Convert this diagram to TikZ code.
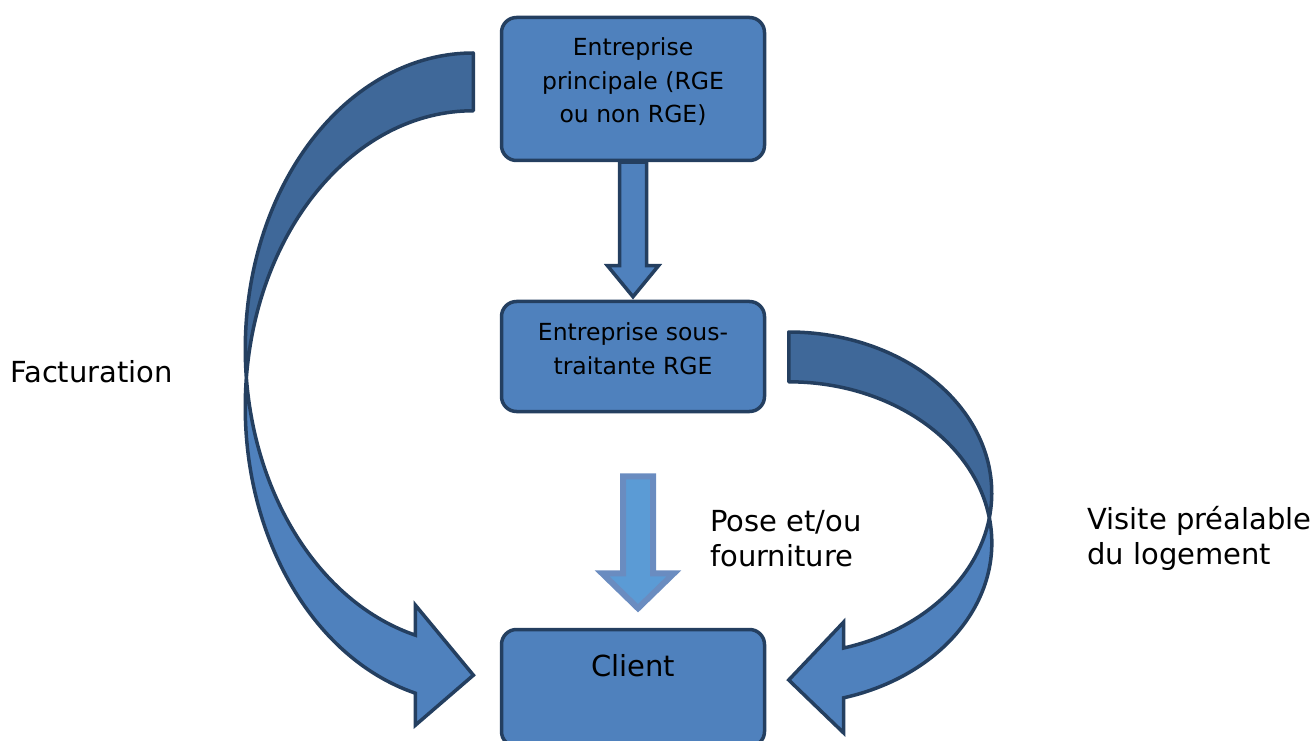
\documentclass[tikz,border=0pt]{standalone}
\usepackage{fontspec}
\setmainfont{DejaVu Sans}
\usepackage{tikz}
\usetikzlibrary{positioning,calc}

\definecolor{boxfill}{HTML}{4F81BD}
\definecolor{boxline}{HTML}{243F60}
\definecolor{backband}{HTML}{3F6899}
\definecolor{fadefill}{HTML}{5B9BD5}
\definecolor{fadeline}{HTML}{6A8CC0}

\begin{document}
\begin{tikzpicture}[
		x=1pt, y=1pt,
		box/.style={rectangle, draw=boxline, fill=boxfill, line width=3.5pt, rounded corners=15pt, minimum width=263pt, inner sep=0pt, align=center, font=\fontsize{23.5}{33.5}\selectfont},
		blockarrow/.style={draw=boxline, fill=boxfill, line width=3.5pt, line join=miter},
		backpart/.style={draw=boxline, fill=backband, line width=3.5pt, line join=round},
		frontpart/.style={draw=boxline, fill=boxfill, line width=3.5pt, line join=miter},
		fadearrow/.style={draw=fadeline, fill=fadefill, line width=6pt, line join=miter},
		tag/.style={font=\fontsize{29}{35}\selectfont, align=left, inner sep=0pt, anchor=west}
		]
		\useasboundingbox (0,0) rectangle (1316,740);
		
		%==================== Nodes ====================%
		\node[box, minimum height=143pt, text depth=17pt] (main) at (633,651) {Entreprise\\principale (RGE\\ou non RGE)};
		\node[box, minimum height=110pt, text depth=16pt] (sub) at (633,383.5) {Entreprise sous-\\traitante RGE};
		\node[box, font=\fontsize{29}{35}\selectfont, text height=47pt, text depth=70pt, anchor=base] (client) at (633,63.5) {Client};
		
		\node[tag] (bill) at (10,368) {Facturation};
		\node[tag] (work) at (710,201.5) {Pose et/ou\\fourniture};
		\node[tag] (visit) at (1087,201.5) {Visite préalable\\du logement};
		
		%==================== Arrows ====================%
		\coordinate (billstart) at ($(main.west)+(-26.5,36)$);
		\coordinate (visitstart) at ($(sub.east)+(22.5,24.5)$);
		
		% main -> sub
		\draw[blockarrow] ($(main.south)+(-13.5,0)$) -- ($(sub.north)+(-13.5,34)$) -- ++(-12,0)
		-- ($(sub.north)+(0,3)$) -- ($(sub.north)+(25.5,34)$) -- ++(-12,0) -- ($(main.south)+(13.5,0)$) -- cycle;
		
		% sub -> client (faded)
		\draw[fadearrow] ($(client.north)+(-10,151.5)$) -- ($(client.north)+(-10,54.5)$) -- ++(-21,0)
		-- ($(client.north)+(5,19.5)$) -- ($(client.north)+(41,54.5)$) -- ++(-21,0) -- ($(client.north)+(20,151.5)$) -- cycle;
		
		% main -> client, left curve
		\draw[backpart] (billstart) arc[start angle=90, end angle=185.6, x radius=228, y radius=296]
		arc[start angle=174.4, end angle=90, x radius=228, y radius=296] -- cycle;
		\draw[frontpart] ($(billstart)+(-226.9,-325)$) arc[start angle=174.4, end angle=255.3, x radius=228, y radius=296]
		-- ++(0,-32) -- ++(58,50) -- ++(-58,70) -- ++(0,-30)
		arc[start angle=255.3, end angle=185.6, x radius=228, y radius=296] -- cycle;
		
		% sub -> client, right curve
		\draw[backpart] (visitstart) arc[start angle=90, end angle=-8.9, x radius=203, y radius=161]
		arc[start angle=8.9, end angle=90, x radius=203, y radius=161] -- cycle;
		\draw[frontpart] ($(visitstart)+(200.6,-185.9)$) arc[start angle=8.9, end angle=-74.3, x radius=203, y radius=161]
		-- ++(0,-35.2) -- ++(-55,53) -- ++(55,58) -- ++(0,-26)
		arc[start angle=-74.3, end angle=-8.9, x radius=203, y radius=161] -- cycle;
		
	\end{tikzpicture}
\end{document}
